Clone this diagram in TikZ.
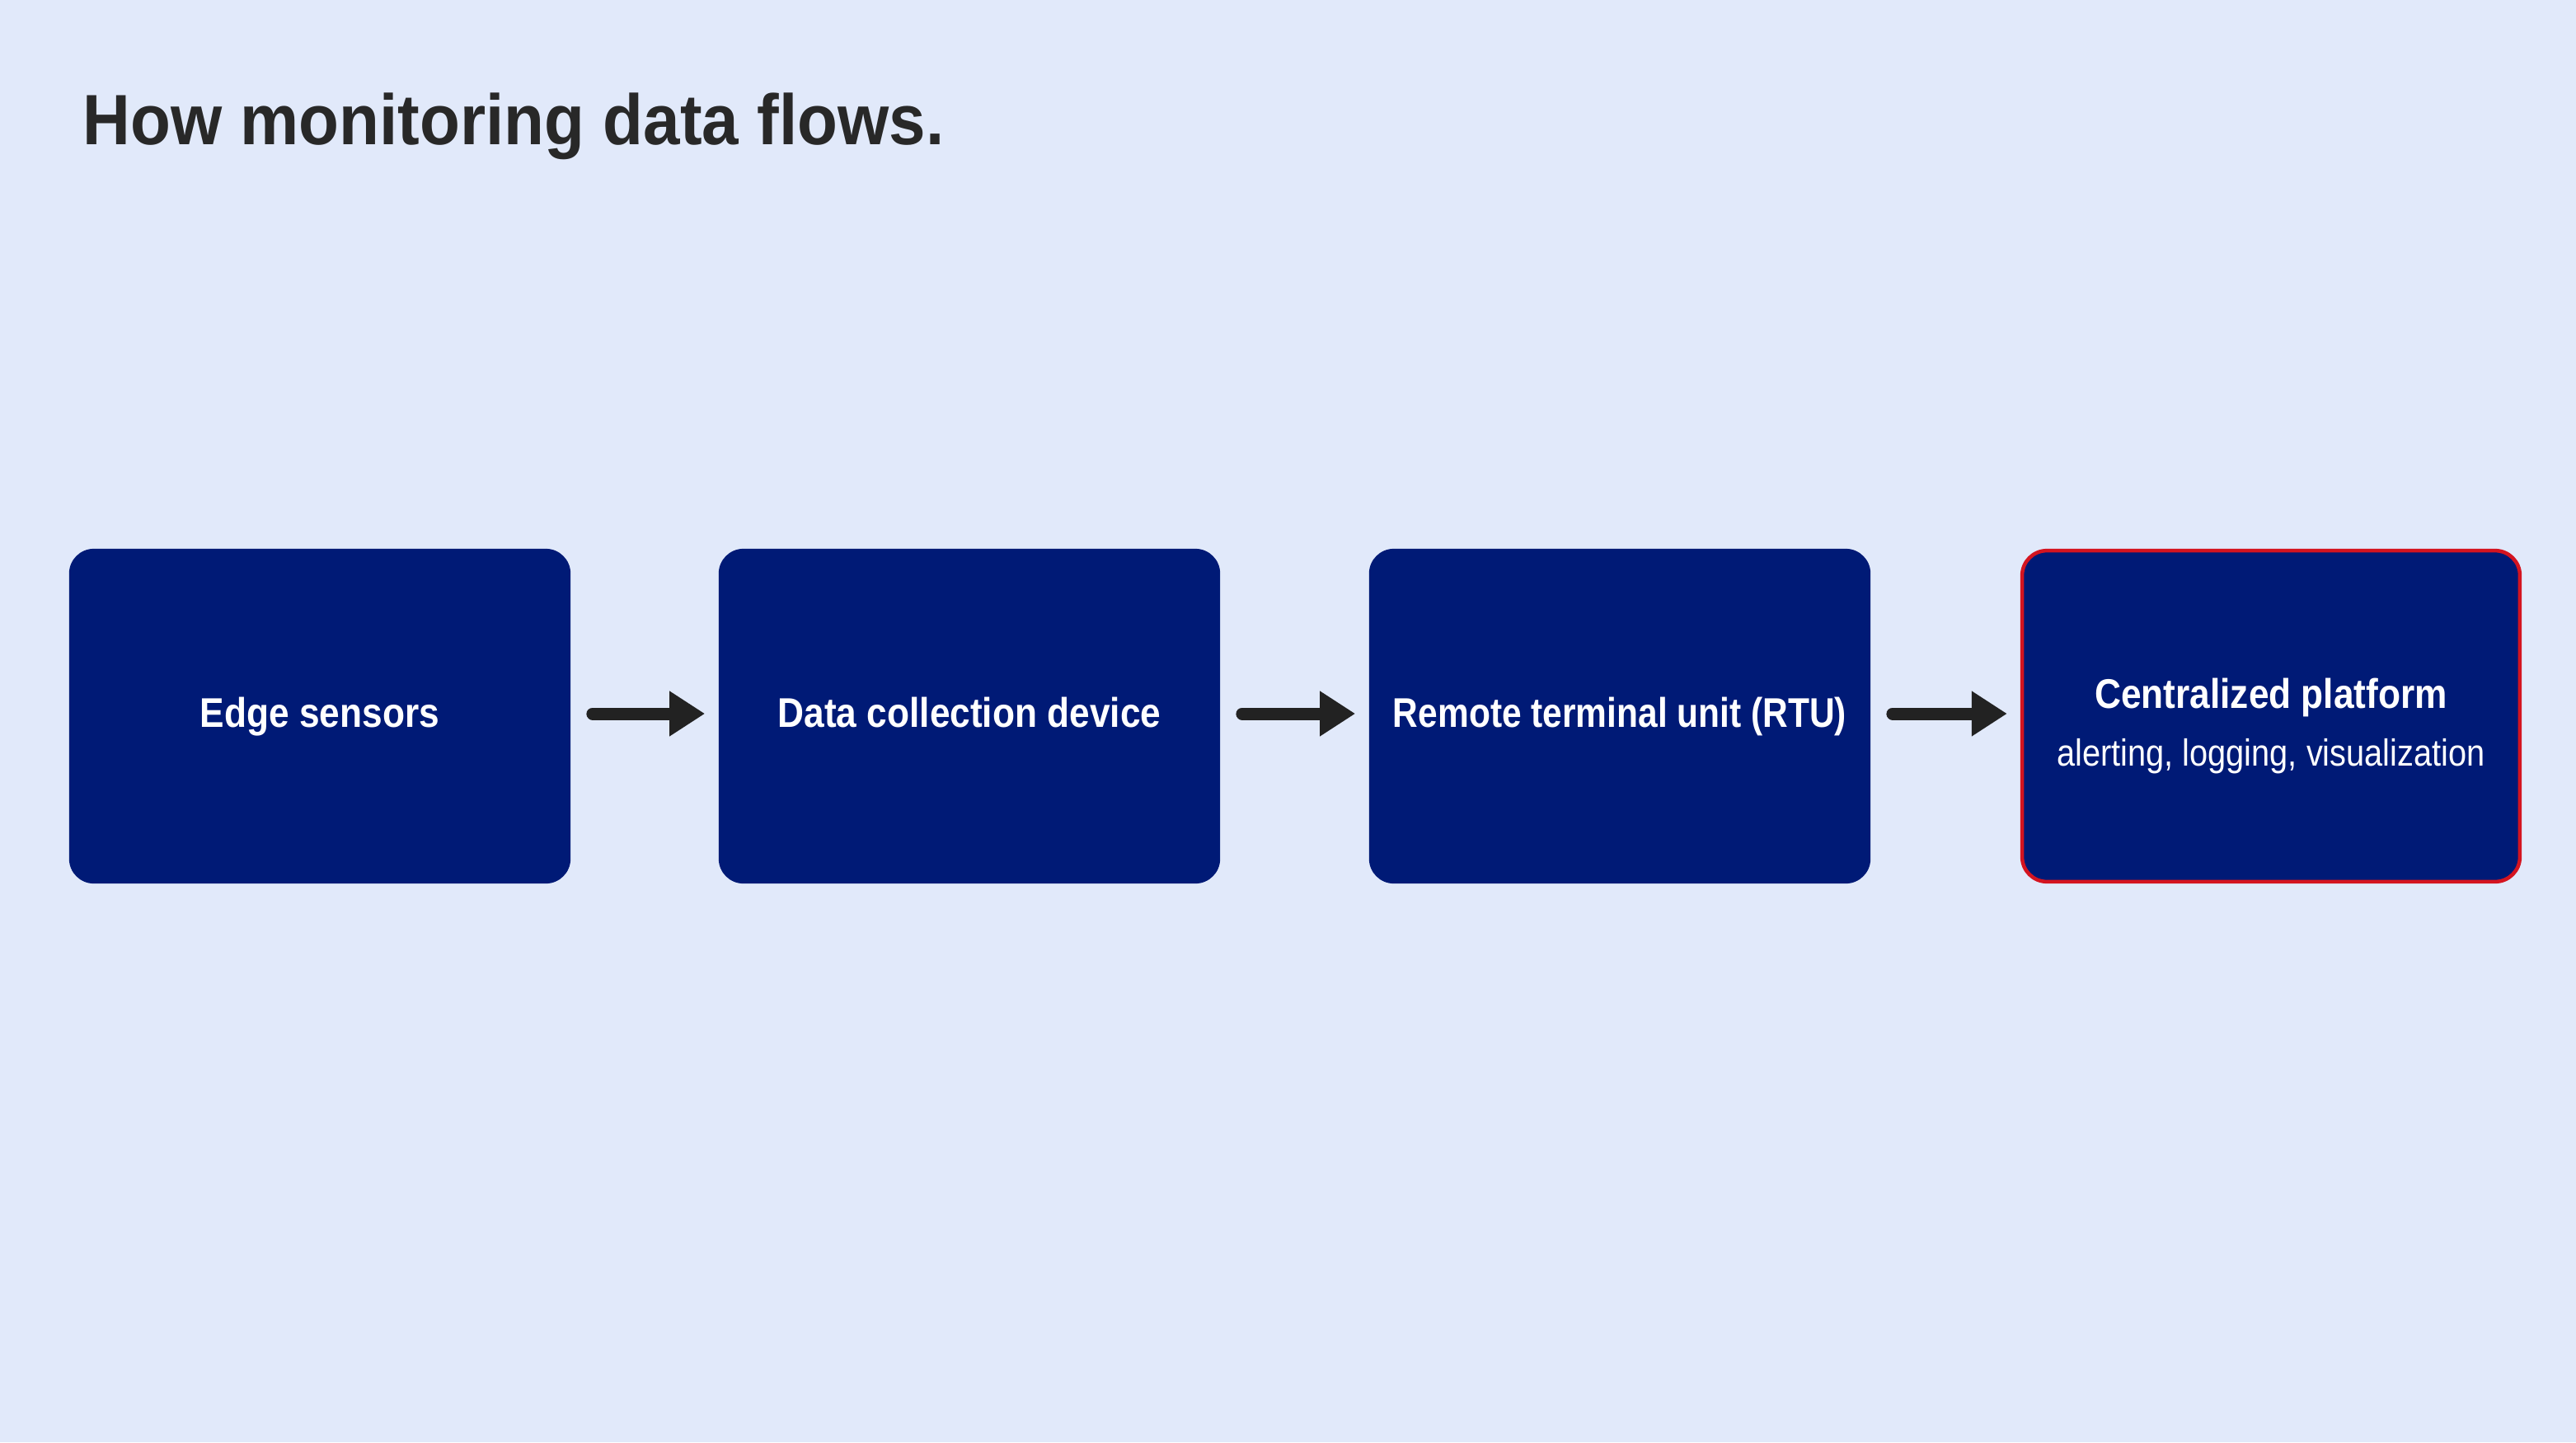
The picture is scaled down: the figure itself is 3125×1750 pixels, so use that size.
\documentclass[tikz,border=0pt]{standalone}
\usepackage{fontspec}
\setmainfont{Liberation Sans}
\newfontfamily\titlefont[FakeStretch=0.925]{Liberation Sans}
\newfontfamily\boxfont[FakeStretch=0.88]{Liberation Sans}
\newfontfamily\rtufont[FakeStretch=0.845]{Liberation Sans}
\newfontfamily\subfont[FakeStretch=0.87]{Liberation Sans}
\usetikzlibrary{arrows.meta}
\definecolor{bgc}{RGB}{225,233,250}
\definecolor{navy}{RGB}{0,26,118}
\definecolor{redb}{RGB}{212,20,32}
\definecolor{arrc}{RGB}{34,34,34}
\definecolor{titlec}{RGB}{40,40,40}
\tikzset{
  stage/.style={fill=navy, rounded corners=0.3cm, minimum width=6.08cm, minimum height=4.06cm,
    inner sep=0pt, text=white, align=center, font=\boxfont\bfseries\fontsize{14.3}{17}\selectfont},
  oneline/.style={text height=0.37cm, text depth=0.1cm},
  hilite/.style={draw=redb, line width=0.045cm, minimum width=6.035cm, minimum height=4.015cm},
  flow/.style={draw=arrc, line width=0.15cm, line cap=round,
    -{Triangle[length=0.43cm,width=0.52cm]}, shorten <=0.26cm, shorten >=0.16cm}
}
\begin{document}
\begin{tikzpicture}[x=0.01cm,y=0.01cm]
\path[fill=bgc] (0,0) rectangle (3125,1750);
\node[anchor=base west, inner sep=0pt, text=titlec, font=\titlefont\bfseries\fontsize{24.6}{29}\selectfont] (title) at (100,1574) {How monitoring data flows.};
\node[stage, oneline] (b1) at (388,881) {Edge sensors};
\node[stage, oneline] (b2) at (1176,881) {Data collection device};
\node[stage, oneline, font=\rtufont\bfseries\fontsize{14.3}{17}\selectfont] (b3) at (1965,881) {Remote terminal unit (RTU)};
\node[stage, hilite] (b4) at (2755,881) {\rule{0pt}{0.6cm}Centralized platform\\[3pt]{\subfont\mdseries\fontsize{13}{16}\selectfont alerting, logging, visualization}};
\draw[flow] ([yshift=0.03cm]b1.east) -- ([yshift=0.03cm]b2.west);
\draw[flow] ([yshift=0.03cm]b2.east) -- ([yshift=0.03cm]b3.west);
\draw[flow] ([yshift=0.03cm]b3.east) -- ([yshift=0.03cm]b4.west);
\end{tikzpicture}
\end{document}
